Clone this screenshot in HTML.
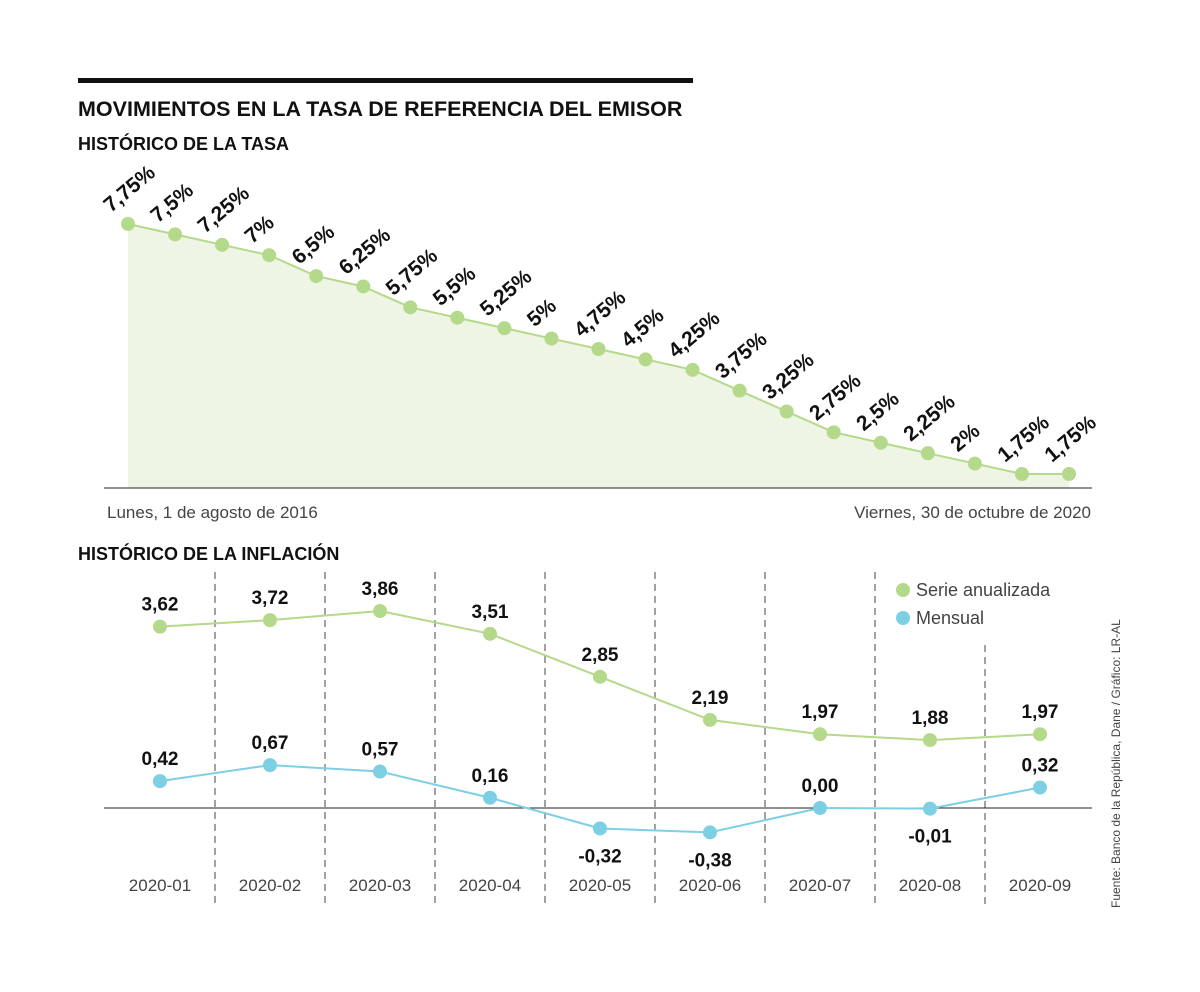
<!DOCTYPE html>
<html><head><meta charset="utf-8"><style>
body{margin:0;background:#fff;}
svg text{font-family:"Liberation Sans",sans-serif;}
</style></head><body>
<svg id="c" width="1200" height="987" xmlns="http://www.w3.org/2000/svg">
<rect x="78" y="78" width="615" height="5" fill="#111"/>
<text x="78" y="116" font-size="21.5" font-weight="bold" fill="#111">MOVIMIENTOS EN LA TASA DE REFERENCIA DEL EMISOR</text>
<text x="78" y="150" font-size="18" font-weight="bold" fill="#111">HISTÓRICO DE LA TASA</text>
<g id="topg"></g>
<line x1="104" y1="488" x2="1092" y2="488" stroke="#222" stroke-width="1"/>
<text x="107" y="518" font-size="17" fill="#444">Lunes, 1 de agosto de 2016</text>
<text x="1091" y="518" font-size="17" fill="#444" text-anchor="end">Viernes, 30 de octubre de 2020</text>
<text x="78" y="560" font-size="18" font-weight="bold" fill="#111">HISTÓRICO DE LA INFLACIÓN</text>
<g id="botg"></g>
<circle cx="903" cy="590" r="7" fill="#b5d98a"/>
<text x="916" y="596" font-size="18" fill="#444">Serie anualizada</text>
<circle cx="903" cy="618" r="7" fill="#7dcfe3"/>
<text x="916" y="624" font-size="18" fill="#444">Mensual</text>
<text transform="translate(1120,908) rotate(-90)" font-size="12" fill="#444">Fuente: Banco de la República, Dane / Gráfico: LR-AL</text>
</svg>
<script>
const rates=[7.75,7.5,7.25,7,6.5,6.25,5.75,5.5,5.25,5,4.75,4.5,4.25,3.75,3.25,2.75,2.5,2.25,2,1.75,1.75];
const months=["2020-01","2020-02","2020-03","2020-04","2020-05","2020-06","2020-07","2020-08","2020-09"];
const annual=[3.62,3.72,3.86,3.51,2.85,2.19,1.97,1.88,1.97];
const monthly=[0.42,0.67,0.57,0.16,-0.32,-0.38,0.00,-0.01,0.32];
const NS="http://www.w3.org/2000/svg";
function mk(p,t,a){const e=document.createElementNS(NS,t);for(const k in a)e.setAttribute(k,a[k]);p.appendChild(e);return e;}
const fmt=v=>v.toFixed(2).replace('.',',');
const fmtR=v=>String(v).replace('.',',')+'%';
const topG=document.getElementById('topg');
const tx=i=>128+i*(1069-128)/(rates.length-1);
const ty=v=>474-(v-1.75)*41.67;
let d='M'+tx(0)+' 488';rates.forEach((v,i)=>d+=' L'+tx(i)+' '+ty(v));d+=' L'+tx(rates.length-1)+' 488 Z';
let area=mk(topG,'path',{d:d,fill:'#eef5e5'});


let ln=mk(topG,'polyline',{points:rates.map((v,i)=>tx(i)+','+ty(v)).join(' '),fill:'none',stroke:'#b5d98a','stroke-width':2});


rates.forEach((v,i)=>{
 const c=mk(topG,'circle',{cx:tx(i),cy:ty(v),r:7,fill:'#b5d98a'});
 
 
 const t=mk(topG,'text',{transform:`translate(${tx(i)-17},${ty(v)-11}) rotate(-40)`,'font-size':21,'font-weight':'bold',fill:'#111'});
 t.textContent=fmtR(v);
 
 
});
const botG=document.getElementById('botg');
const bx=i=>160+i*110;
const ya=v=>611+(3.86-v)*65.2;
const ym=v=>808-v*64;
for(let i=0;i<months.length-1;i++){
 const x=bx(i)+55;
 const g=mk(botG,'line',{x1:x,x2:x,y1:i==7?645:572,y2:905,stroke:'#444','stroke-dasharray':'7,5','stroke-width':1});
 
 
}
const z=mk(botG,'line',{x1:104,x2:1092,y1:808,y2:808,stroke:'#222','stroke-width':1});


months.forEach((m,i)=>{
 const t=mk(botG,'text',{x:bx(i),y:891,'font-size':17,fill:'#444','text-anchor':'middle'});
 t.textContent=m;
 
 
});
function series(arr,yf,col,name){
 const l=mk(botG,'polyline',{points:arr.map((v,i)=>bx(i)+','+yf(v)).join(' '),fill:'none',stroke:col,'stroke-width':2});
 
 
 arr.forEach((v,i)=>{
  const c=mk(botG,'circle',{cx:bx(i),cy:yf(v),r:7,fill:col});
  
  
  const below=v<0;
  const t=mk(botG,'text',{x:bx(i),y:below?yf(v)+34:yf(v)-16,'font-size':19,'font-weight':'bold',fill:'#111','text-anchor':'middle'});
  t.textContent=fmt(v);
  
  
 });
}
series(annual,ya,'#b5d98a','annual');
series(monthly,ym,'#7dcfe3','monthly');
</script>
</body></html>
